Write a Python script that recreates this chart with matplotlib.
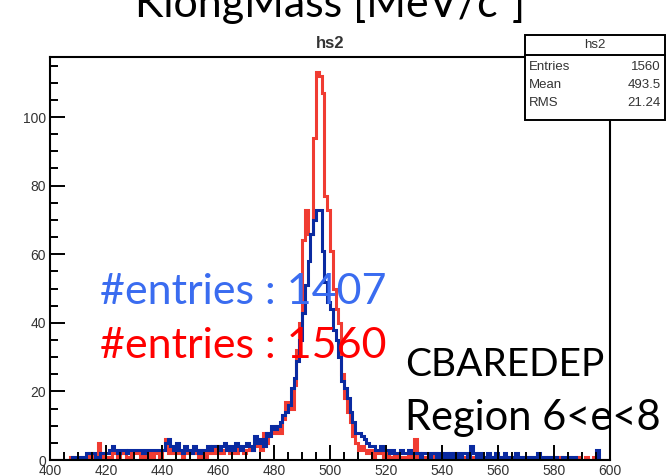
#!/usr/bin/env python3
import numpy as np
import matplotlib
matplotlib.use("Agg")
import matplotlib.pyplot as plt
from matplotlib.ticker import MultipleLocator
from matplotlib.patches import Rectangle
from matplotlib.lines import Line2D

# BEGIN data
bin_lo = 400
bin_hi = 600
red_counts = [
    0, 0, 0, 0, 0, 0, 0, 1, 0, 1,
    1, 0, 1, 1, 2, 1, 1, 5, 2, 1,
    1, 1, 2, 2, 1, 2, 2, 1, 1, 2,
    2, 2, 1, 2, 1, 2, 1, 2, 2, 1,
    3, 6, 2, 4, 2, 3, 2, 1, 2, 3,
    2, 2, 3, 1, 3, 1, 3, 2, 2, 4,
    2, 2, 3, 4, 2, 3, 2, 4, 3, 2,
    3, 4, 3, 4, 5, 3, 8, 5, 8, 9,
    8, 10, 8, 12, 17, 17, 15, 22, 32, 40,
    64, 73, 66, 66, 94, 113, 112, 107, 77, 73,
    61, 50, 44, 40, 25, 18, 14, 11, 7, 5,
    3, 4, 3, 2, 3, 1, 2, 2, 3, 1,
    2, 1, 1, 2, 1, 0, 1, 1, 2, 1,
    6, 1, 2, 1, 1, 0, 1, 2, 1, 1,
    1, 0, 1, 1, 2, 0, 1, 0, 1, 1,
    1, 0, 1, 0, 1, 1, 0, 1, 0, 1,
    0, 1, 0, 1, 0, 1, 1, 0, 0, 1,
    0, 1, 0, 0, 1, 0, 1, 0, 1, 0,
    1, 0, 1, 0, 0, 1, 0, 0, 1, 0,
    0, 1, 0, 0, 1, 0, 0, 0, 0, 0,
]
blue_counts = [
    0, 0, 0, 0, 0, 0, 0, 0, 1, 1,
    1, 1, 1, 2, 2, 2, 1, 1, 2, 2,
    2, 3, 4, 3, 2, 3, 3, 2, 3, 3,
    3, 3, 3, 2, 3, 3, 3, 3, 3, 3,
    3, 5, 6, 4, 3, 5, 3, 2, 4, 3,
    2, 4, 3, 2, 3, 3, 4, 3, 4, 4,
    3, 4, 5, 3, 4, 3, 5, 4, 3, 4,
    5, 4, 3, 7, 5, 6, 4, 8, 7, 10,
    9, 10, 11, 13, 14, 16, 21, 24, 29, 35,
    43, 51, 58, 66, 70, 73, 73, 61, 52, 46,
    44, 38, 35, 30, 23, 21, 18, 14, 11, 8,
    8, 7, 6, 5, 4, 4, 3, 3, 4, 3,
    3, 2, 3, 2, 2, 3, 2, 2, 3, 2,
    2, 2, 1, 2, 2, 1, 2, 2, 1, 2,
    1, 2, 1, 2, 1, 2, 1, 2, 2, 1,
    4, 2, 1, 2, 1, 1, 2, 1, 1, 2,
    1, 1, 2, 1, 1, 1, 2, 1, 1, 1,
    1, 0, 1, 1, 2, 1, 0, 1, 1, 1,
    1, 0, 0, 1, 1, 0, 1, 1, 0, 0,
    0, 0, 0, 0, 0, 3, 0, 0, 0, 0,
]
stats_rows = [("Entries", "1560"), ("Mean", "493.5"), ("RMS", "21.24")]
# END data

W, H = 672, 476


def fx(px):
    return px / W


def fy(py):
    return 1 - py / H


fig = plt.figure(figsize=(W / 100, H / 100), dpi=100)
ax = fig.add_axes([fx(50), fy(460), fx(610) - fx(50), fy(57) - fy(460)])

edges = np.arange(bin_lo, bin_hi + 1, 1)
ax.stairs(red_counts, edges, color="#f03c32", lw=2.2, baseline=0)
ax.stairs(blue_counts, edges, color="#0a2aa0", lw=2.2, baseline=0)

ax.set_xlim(bin_lo, bin_hi)
ax.set_ylim(0, 117.5)
ax.xaxis.set_major_locator(MultipleLocator(20))
ax.xaxis.set_minor_locator(MultipleLocator(5))
ax.yaxis.set_major_locator(MultipleLocator(20))
ax.yaxis.set_minor_locator(MultipleLocator(5))
ax.tick_params(which="both", direction="in", top=False, right=False,
               width=1.4, labelsize=10, colors="black", labelcolor="#333333")
ax.tick_params(which="major", length=11, pad=3)
ax.tick_params(which="minor", length=6)
for s in ax.spines.values():
    s.set_linewidth(1.5)
for lab in ax.get_xticklabels() + ax.get_yticklabels():
    lab.set_family("Liberation Sans")

# titles
fig.text(fx(330), fy(17), "KlongMass [MeV/c\u00b2]", ha="center", va="baseline",
         fontsize=31, family="Lato")
fig.text(fx(330), fy(43), "hs2", ha="center", va="center", fontsize=12,
         fontweight="bold", family="Liberation Sans", color="#333333")

# stats box
bx0, bx1, by0, by1 = 525, 665, 35, 120
fig.patches.append(Rectangle((fx(bx0), fy(by1)), fx(bx1) - fx(bx0), fy(by0) - fy(by1),
                             transform=fig.transFigure, facecolor="white",
                             edgecolor="black", lw=1.4, zorder=5))
fig.lines.append(Line2D([fx(bx0), fx(bx1)], [fy(55), fy(55)],
                        transform=fig.transFigure, color="black", lw=1.4, zorder=6))
fig.text(fx((bx0 + bx1) / 2), fy(45), "hs2", ha="center", va="center",
         fontsize=9.5, family="Liberation Sans", color="#333333", zorder=7)
for i, (k, v) in enumerate(stats_rows):
    yy = 67 + i * 18
    fig.text(fx(bx0 + 4), fy(yy), k, ha="left", va="center", fontsize=9.5,
             family="Liberation Sans", color="#333333", zorder=7)
    fig.text(fx(bx1 - 4), fy(yy), v, ha="right", va="center", fontsize=9.5,
             family="Liberation Sans", color="#333333", zorder=7)

# overlay annotations
fig.text(fx(100), fy(304), "#entries : 1407", ha="left", va="baseline",
         fontsize=31, family="Lato", color="#3a6cf0")
fig.text(fx(100), fy(358), "#entries : 1560", ha="left", va="baseline",
         fontsize=31, family="Lato", color="#ff0000")
fig.text(fx(405), fy(376), "CBAREDEP", ha="left", va="baseline",
         fontsize=28, family="Lato", color="black")
fig.text(fx(405), fy(430), "Region 6<e<8", ha="left", va="baseline",
         fontsize=30, family="Lato", color="black")

fig.savefig("out.png", dpi=100)
